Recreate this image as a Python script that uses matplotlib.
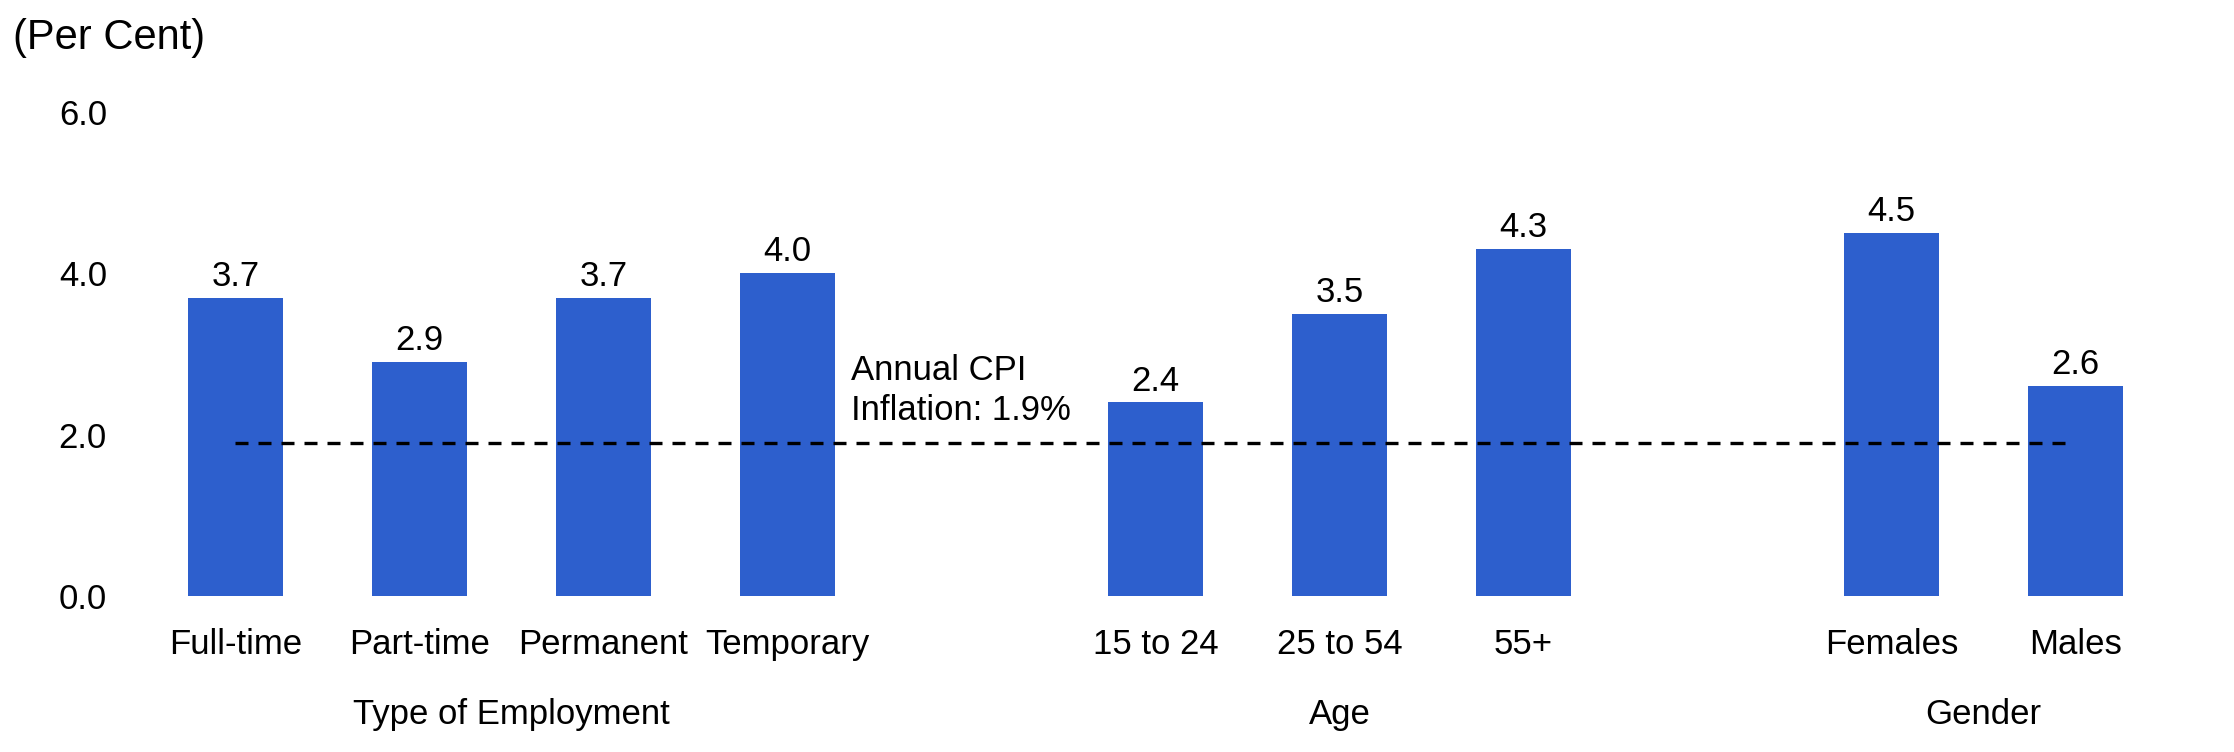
import numpy as np
import matplotlib
matplotlib.use('Agg')
import matplotlib.pyplot as plt

# dados
categorias = ['Full-time', 'Part-time', 'Permanent', 'Temporary',
              '15 to 24', '25 to 54', '55+', 'Females', 'Males']
valores = [3.7, 2.9, 3.7, 4.0, 2.4, 3.5, 4.3, 4.5, 2.6]
posicoes = [0, 1, 2, 3, 5, 6, 7, 9, 10]
grupos = ['Type of Employment', 'Age', 'Gender']
centro_grupos = [1.5, 6, 9.5]
inflacao_cpi = 1.9

plt.rcParams['font.family'] = ['Liberation Sans', 'DejaVu Sans']
azul = '#2D5FCD'

fig = plt.figure(figsize=(22.34, 7.52), dpi=100)
ax = fig.add_axes([0.05595, 0.2074, 0.97842 - 0.05595, 0.8511 - 0.2074])

barras = ax.bar(posicoes, valores, width=0.52, color=azul)
ax.bar_label(barras, labels=[f'{v:.1f}' for v in valores], padding=3.5, fontsize=25)

# linha da inflação
ax.plot([posicoes[0], posicoes[-1]], [inflacao_cpi, inflacao_cpi], color='black',
        lw=2.4, linestyle=(0, (3.9, 3.0)))
ax.text(3.345, 2.1, f'Annual CPI\nInflation: {inflacao_cpi}%', fontsize=25,
        ha='left', va='bottom', linespacing=1.24)

ax.set_xlim(-0.6, 10.6)
ax.set_ylim(0, 6)
ax.set_yticks([0, 2, 4, 6])
ax.set_yticklabels([f'{t:.1f}' for t in [0, 2, 4, 6]], fontsize=25)
ax.set_xticks(posicoes)
ax.set_xticklabels(categorias, fontsize=25)
ax.tick_params(axis='both', length=0)
ax.tick_params(axis='y', pad=13)
ax.tick_params(axis='x', pad=23)
for s in ax.spines.values():
    s.set_visible(False)

for g, c in zip(grupos, centro_grupos):
    ax.text(c, -0.2645, g, transform=ax.get_xaxis_transform(), fontsize=25,
            ha='center', va='baseline')

fig.text(13 / 2234, 1 - 49 / 752, '(Per Cent)', fontsize=30, ha='left', va='baseline')

fig.savefig('out.png', dpi=100)
